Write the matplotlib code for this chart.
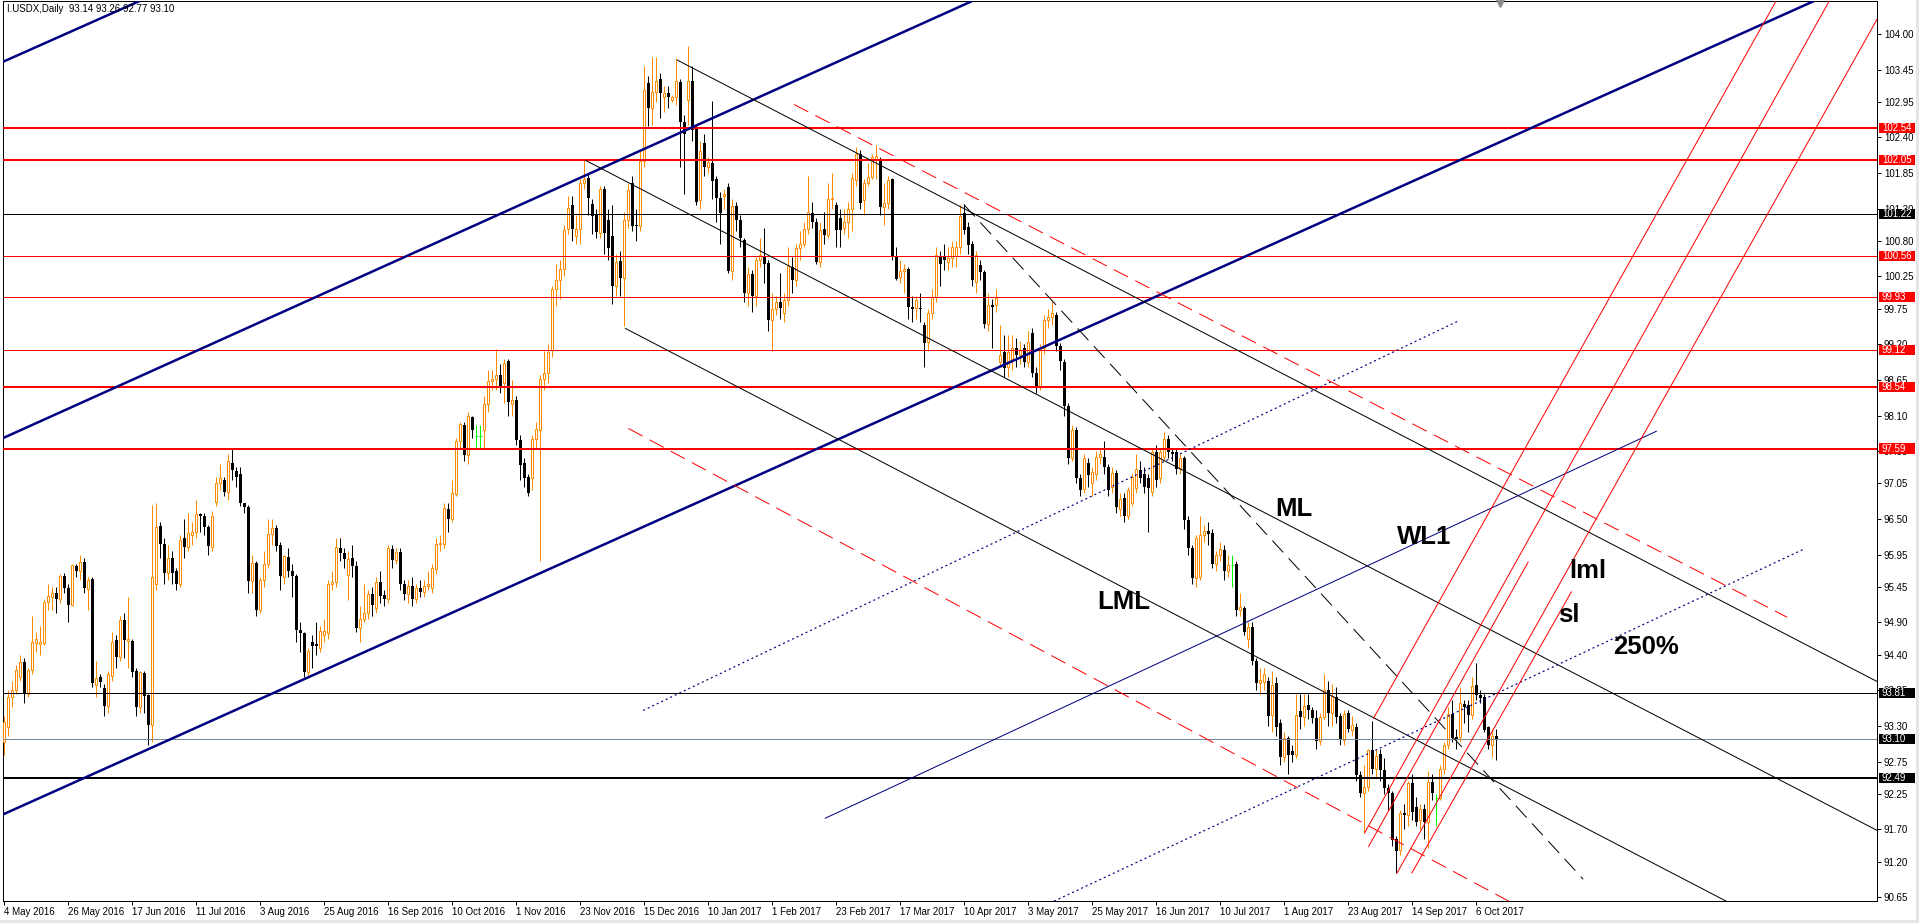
import matplotlib
matplotlib.use("Agg")
import matplotlib.pyplot as plt
import matplotlib.transforms as mtransforms
from matplotlib.patches import Rectangle
import numpy as np

# daily candles, bar 0 = 4 May 2016, one bar per trading day
opens = [
    93.05, 93.29, 93.75, 93.86, 94.06, 94.29, 93.80, 94.17, 94.58, 94.57,
    94.58, 95.22, 95.30, 95.35, 95.27, 95.62, 95.43, 95.17, 95.78, 95.69,
    95.83, 95.41, 95.57, 93.93, 94.06, 93.89, 93.61, 94.07, 94.63, 94.36,
    94.94, 94.62, 94.62, 94.15, 93.60, 94.12, 93.78, 93.31, 95.50, 96.39,
    96.12, 95.66, 95.90, 95.70, 95.49, 96.20, 96.07, 96.25, 96.30, 96.57,
    96.54, 96.37, 96.07, 96.77, 97.05, 97.11, 96.91, 97.37, 97.24, 97.20,
    96.74, 96.69, 95.54, 95.82, 95.09, 95.56, 95.80, 96.27, 96.36, 96.10,
    95.61, 95.92, 95.70, 95.62, 94.78, 94.73, 94.14, 94.60, 94.57, 94.50,
    94.71, 94.74, 95.49, 95.53, 96.05, 95.98, 95.63, 95.90, 95.78, 94.81,
    94.95, 95.04, 95.34, 95.12, 95.53, 95.32, 95.27, 96.04, 95.87, 95.99,
    95.49, 95.34, 95.47, 95.26, 95.44, 95.37, 95.46, 95.44, 95.72, 96.12,
    96.12, 96.65, 96.50, 96.89, 97.71, 97.96, 97.49, 98.07, 97.78, 97.78,
    97.87, 98.28, 98.63, 98.67, 98.72, 98.61, 98.94, 98.28, 98.34, 97.72,
    97.36, 97.15, 97.14, 97.74, 97.87, 98.66, 98.75, 99.11, 100.05, 100.20,
    100.36, 100.99, 101.36, 100.87, 100.99, 101.70, 101.77, 101.37, 101.20, 100.93,
    101.60, 101.12, 100.88, 100.11, 100.49, 100.22, 101.13, 101.69, 101.05, 101.03,
    102.04, 103.24, 102.86, 103.11, 103.30, 103.03, 103.09, 102.98, 103.02, 103.25,
    102.64, 102.98, 103.27, 102.54, 101.44, 102.32, 101.95, 102.00, 101.75, 101.47,
    101.50, 101.64, 100.33, 101.34, 101.12, 100.81, 99.99, 100.29, 99.95, 100.50,
    100.57, 100.46, 99.58, 99.74, 99.86, 99.68, 99.88, 100.40, 100.20, 100.69,
    100.76, 100.99, 101.23, 101.10, 100.48, 100.98, 100.89, 101.45, 101.35, 101.15,
    101.00, 101.10, 101.30, 101.74, 102.15, 101.43, 101.69, 101.79, 102.07, 102.05,
    101.32, 101.39, 101.76, 100.55, 100.24, 100.33, 100.36, 99.78, 99.76, 99.77,
    99.50, 99.23, 99.69, 99.94, 100.57, 100.55, 100.48, 100.54, 100.56, 100.71,
    101.23, 101.02, 100.75, 100.17, 100.43, 100.32, 99.52, 99.81, 99.81, 98.93,
    99.09, 98.85, 98.98, 99.15, 99.04, 99.14, 98.93, 99.37, 98.75, 98.55,
    99.14, 99.58, 99.63, 99.66, 99.18, 98.93, 98.25, 97.44, 97.88, 97.13,
    96.97, 97.37, 97.05, 97.20, 97.46, 97.46, 97.31, 97.00, 97.21, 96.66,
    96.82, 96.54, 96.74, 96.98, 97.26, 97.20, 97.13, 96.92, 97.54, 97.13,
    97.46, 97.74, 97.54, 97.53, 97.27, 97.44, 96.48, 96.05, 95.58, 95.61,
    96.25, 96.31, 96.29, 95.80, 95.94, 96.02, 95.69, 95.79, 95.81, 95.09,
    95.13, 94.65, 94.83, 94.31, 93.96, 93.98, 94.00, 93.47, 93.96, 93.35,
    92.82, 93.11, 92.92, 92.85, 93.53, 93.44, 93.62, 93.54, 93.42, 93.06,
    93.44, 93.86, 93.50, 93.74, 93.45, 93.09, 93.50, 93.24, 93.29, 92.54,
    92.26, 92.36, 92.93, 92.64, 92.87, 92.62, 92.34, 92.26, 91.55, 91.38,
    91.96, 91.92, 92.41, 92.05, 91.85, 92.02, 91.82, 92.44, 92.18, 92.18,
    92.64, 93.01, 93.49, 93.13, 93.13, 93.64, 93.62, 93.47, 93.93, 93.78,
    93.75, 93.29, 93.01, 93.14,
]
highs = [
    93.45, 93.85, 94.00, 94.25, 94.40, 94.35, 94.20, 95.00, 94.75, 94.85,
    95.25, 95.50, 95.45, 95.45, 95.65, 95.67, 95.50, 95.80, 95.80, 95.95,
    95.90, 95.60, 95.60, 94.30, 94.10, 93.95, 94.15, 94.75, 94.70, 95.00,
    95.05, 95.30, 94.65, 94.20, 94.15, 94.15, 93.80, 96.72, 96.75, 96.45,
    96.20, 96.10, 96.00, 95.75, 96.25, 96.50, 96.60, 96.45, 96.80, 96.60,
    96.60, 96.40, 96.62, 97.15, 97.35, 97.15, 97.50, 97.60, 97.30, 97.30,
    96.75, 96.72, 95.95, 95.85, 95.60, 96.00, 96.50, 96.50, 96.40, 96.15,
    95.95, 96.05, 95.80, 95.65, 94.90, 94.75, 94.50, 94.70, 94.90, 94.85,
    94.95, 95.55, 95.70, 96.20, 96.20, 96.05, 96.00, 96.10, 95.85, 95.15,
    95.50, 95.40, 95.45, 95.60, 95.70, 95.40, 96.10, 96.10, 96.05, 96.05,
    95.55, 95.55, 95.60, 95.50, 95.55, 95.55, 95.70, 95.80, 96.20, 96.25,
    96.75, 96.75, 97.10, 97.75, 98.00, 98.00, 98.15, 98.10, 97.95, 97.95,
    98.40, 98.80, 98.80, 99.13, 98.90, 98.98, 98.97, 98.65, 98.40, 97.80,
    97.45, 97.20, 97.80, 98.00, 98.72, 99.10, 99.20, 100.10, 100.45, 100.50,
    101.05, 101.50, 101.50, 101.20, 101.75, 102.07, 101.85, 101.45, 101.30, 101.65,
    101.65, 101.30, 101.35, 100.60, 100.65, 101.25, 101.70, 101.80, 101.30, 102.20,
    103.50, 103.35, 103.65, 103.65, 103.40, 103.20, 103.20, 103.05, 103.63, 103.30,
    102.75, 103.82, 103.50, 102.60, 102.35, 102.45, 102.10, 102.97, 101.80, 101.55,
    101.60, 101.70, 101.45, 101.40, 101.20, 100.85, 100.40, 100.35, 100.55, 100.85,
    101.00, 100.50, 100.00, 99.95, 100.30, 100.00, 100.70, 100.55, 100.75, 100.95,
    101.10, 101.80, 101.40, 101.15, 101.10, 101.25, 101.70, 101.85, 101.40, 101.30,
    101.30, 101.40, 101.85, 102.25, 102.20, 101.75, 102.00, 102.15, 102.28, 102.10,
    101.70, 101.80, 101.78, 100.70, 100.50, 100.45, 100.40, 99.95, 99.95, 100.00,
    99.55, 99.75, 100.05, 100.70, 100.65, 100.75, 100.70, 100.80, 100.80, 101.35,
    101.37, 101.10, 100.80, 100.65, 100.50, 100.35, 100.00, 99.90, 100.05, 99.50,
    99.35, 99.35, 99.35, 99.30, 99.25, 99.20, 99.40, 99.45, 98.85, 99.20,
    99.65, 99.75, 99.89, 99.70, 99.22, 98.97, 98.30, 97.95, 97.92, 97.20,
    97.50, 97.45, 97.30, 97.55, 97.60, 97.70, 97.35, 97.30, 97.25, 96.90,
    96.90, 97.00, 97.20, 97.50, 97.40, 97.30, 97.20, 97.60, 97.65, 97.60,
    97.85, 97.80, 97.60, 97.60, 97.50, 97.48, 96.55, 96.10, 96.25, 96.55,
    96.40, 96.45, 96.35, 96.00, 96.15, 96.10, 95.95, 95.95, 95.85, 95.35,
    95.15, 94.90, 94.90, 94.35, 94.20, 94.20, 94.05, 94.15, 94.05, 93.40,
    93.20, 93.15, 93.00, 93.80, 93.80, 93.80, 93.80, 93.60, 93.55, 93.50,
    94.10, 94.00, 93.95, 93.90, 93.50, 93.55, 93.55, 93.45, 93.35, 92.60,
    92.70, 92.95, 93.37, 92.95, 92.95, 92.80, 92.40, 92.30, 91.60, 92.00,
    92.10, 92.45, 92.55, 92.20, 92.10, 92.10, 92.60, 92.55, 92.25, 92.70,
    93.05, 93.60, 93.70, 93.25, 93.90, 93.70, 93.70, 94.05, 94.27, 93.85,
    93.80, 93.30, 93.25, 93.26,
]
lows = [
    92.85, 93.15, 93.60, 93.80, 94.00, 93.65, 93.75, 94.10, 94.45, 94.40,
    94.55, 95.10, 95.10, 95.05, 95.20, 95.35, 94.90, 95.15, 95.60, 95.55,
    95.35, 95.10, 93.90, 93.75, 93.90, 93.45, 93.50, 94.00, 94.20, 94.30,
    94.35, 94.20, 94.05, 93.45, 93.50, 93.50, 93.00, 93.05, 95.40, 95.90,
    95.50, 95.55, 95.50, 95.40, 95.45, 95.90, 96.00, 96.10, 96.20, 96.30,
    96.25, 95.95, 96.00, 96.70, 96.95, 96.85, 96.80, 97.10, 97.00, 96.70,
    96.60, 95.35, 95.35, 95.00, 95.05, 95.45, 95.75, 96.10, 96.00, 95.40,
    95.50, 95.60, 95.30, 94.60, 94.45, 94.05, 94.05, 94.20, 94.40, 94.45,
    94.60, 94.65, 95.40, 95.45, 95.85, 95.75, 95.25, 95.60, 94.75, 94.60,
    94.90, 94.95, 95.00, 95.05, 95.20, 95.15, 95.20, 95.75, 95.80, 95.40,
    95.25, 95.20, 95.15, 95.20, 95.30, 95.30, 95.40, 95.35, 95.65, 96.00,
    96.05, 96.30, 96.45, 96.85, 97.60, 97.40, 97.35, 97.75, 97.60, 97.60,
    97.60, 98.15, 98.50, 98.50, 98.45, 98.30, 98.10, 98.10, 97.65, 97.10,
    97.00, 96.85, 96.95, 97.60, 95.85, 98.50, 98.60, 99.00, 99.80, 99.90,
    100.25, 100.90, 100.80, 100.75, 100.75, 101.60, 101.20, 100.90, 100.85, 100.85,
    100.60, 100.50, 99.82, 99.95, 99.95, 99.48, 101.00, 100.95, 100.80, 100.95,
    101.95, 102.57, 102.60, 102.95, 102.70, 102.80, 102.85, 102.95, 102.90, 101.95,
    101.52, 102.60, 102.35, 101.35, 101.30, 101.80, 101.85, 101.45, 101.10, 100.75,
    101.30, 100.30, 100.20, 100.95, 100.70, 99.85, 99.80, 99.70, 99.80, 100.40,
    100.15, 99.40, 99.10, 99.65, 99.60, 99.55, 99.80, 100.00, 100.10, 100.50,
    100.70, 100.90, 101.00, 100.45, 100.40, 100.75, 100.85, 101.30, 100.70, 100.70,
    100.90, 100.85, 100.95, 101.65, 101.30, 101.20, 101.65, 101.75, 101.75, 101.20,
    101.05, 101.30, 100.50, 100.20, 100.15, 100.00, 99.60, 99.55, 99.60, 99.55,
    98.85, 99.10, 99.60, 99.85, 100.10, 100.35, 100.35, 100.40, 100.40, 100.60,
    100.90, 100.60, 100.10, 100.00, 100.20, 99.45, 99.40, 99.15, 99.70, 98.85,
    98.70, 98.70, 98.80, 98.85, 98.90, 98.85, 98.85, 98.70, 98.45, 98.50,
    99.05, 99.45, 99.50, 99.10, 98.80, 98.10, 97.35, 97.40, 97.05, 96.85,
    96.90, 97.00, 96.85, 97.10, 97.35, 97.20, 96.85, 96.90, 96.60, 96.55,
    96.45, 96.50, 96.70, 96.90, 97.05, 96.90, 96.30, 96.85, 97.00, 97.05,
    97.40, 97.45, 97.40, 97.20, 97.20, 96.35, 95.95, 95.50, 95.45, 95.55,
    96.15, 96.10, 95.75, 95.70, 95.85, 95.55, 95.60, 95.45, 95.00, 95.00,
    94.70, 94.50, 94.25, 93.85, 93.80, 93.85, 93.30, 93.20, 93.15, 92.70,
    92.75, 92.55, 92.75, 92.80, 93.25, 93.30, 93.40, 93.35, 92.95, 93.00,
    93.40, 93.30, 93.30, 93.35, 93.00, 93.00, 93.20, 93.15, 92.45, 92.20,
    91.64, 92.30, 92.55, 92.50, 92.45, 92.25, 92.00, 91.45, 91.02, 91.30,
    91.70, 91.75, 91.85, 91.75, 91.70, 91.55, 91.41, 92.15, 91.75, 92.15,
    92.55, 92.95, 93.05, 92.95, 93.05, 93.35, 93.20, 93.40, 93.70, 93.65,
    93.20, 92.95, 92.82, 92.77,
]
closes = [
    93.36, 93.75, 93.86, 94.17, 94.29, 93.80, 94.17, 94.60, 94.65, 94.60,
    95.22, 95.31, 95.35, 95.27, 95.62, 95.43, 95.17, 95.79, 95.69, 95.84,
    95.43, 95.56, 93.96, 94.04, 93.98, 93.61, 94.10, 94.60, 94.36, 94.94,
    94.63, 94.64, 94.14, 93.60, 94.13, 93.76, 93.31, 95.61, 96.38, 96.12,
    95.66, 95.89, 95.66, 95.49, 96.17, 96.06, 96.28, 96.30, 96.57, 96.54,
    96.37, 96.08, 96.55, 97.05, 97.13, 96.91, 97.40, 97.25, 97.15, 96.75,
    96.68, 95.54, 95.82, 95.09, 95.56, 95.80, 96.27, 96.36, 96.08, 95.62,
    95.93, 95.70, 95.62, 94.78, 94.73, 94.14, 94.46, 94.53, 94.53, 94.77,
    94.77, 95.49, 95.53, 96.06, 95.98, 95.88, 95.88, 95.78, 94.81, 94.95,
    95.04, 95.34, 95.17, 95.53, 95.31, 95.27, 96.05, 95.87, 95.99, 95.49,
    95.34, 95.46, 95.26, 95.44, 95.37, 95.46, 95.49, 95.75, 96.12, 96.13,
    96.67, 96.50, 96.90, 97.71, 97.97, 97.49, 98.10, 97.87, 97.78, 97.78,
    98.28, 98.63, 98.67, 98.72, 98.53, 98.92, 98.31, 98.34, 97.72, 97.34,
    97.14, 96.90, 97.74, 97.89, 98.66, 98.75, 99.09, 100.05, 100.20, 100.36,
    100.97, 101.31, 100.99, 100.99, 101.69, 101.75, 101.47, 101.18, 100.94, 101.60,
    100.93, 100.69, 100.11, 100.47, 100.22, 101.13, 101.58, 101.03, 101.03, 102.04,
    103.14, 102.86, 103.11, 103.28, 103.08, 103.09, 103.03, 103.02, 103.28, 102.64,
    102.45, 103.27, 102.51, 101.40, 102.19, 101.94, 102.02, 101.72, 101.47, 101.23,
    101.53, 100.33, 101.34, 101.13, 100.84, 99.99, 100.29, 99.95, 100.50, 100.58,
    100.45, 99.58, 99.74, 99.86, 99.77, 99.88, 100.41, 100.20, 100.69, 100.76,
    100.99, 101.25, 101.10, 100.48, 100.97, 100.89, 101.45, 101.47, 100.97, 100.97,
    101.10, 101.30, 101.77, 102.15, 101.39, 101.69, 101.79, 102.09, 102.12, 101.32,
    101.39, 101.74, 100.55, 100.21, 100.33, 100.36, 99.78, 99.74, 99.89, 99.75,
    99.22, 99.69, 99.94, 100.58, 100.45, 100.50, 100.54, 100.71, 100.71, 101.18,
    100.97, 100.74, 100.19, 100.59, 100.32, 99.52, 99.81, 99.78, 99.91, 99.04,
    98.84, 99.08, 99.14, 99.04, 99.12, 98.93, 99.24, 98.75, 98.55, 99.14,
    99.58, 99.63, 99.68, 99.18, 98.95, 98.24, 97.44, 97.88, 97.13, 96.95,
    97.44, 97.18, 97.23, 97.46, 97.51, 97.31, 96.95, 97.21, 96.69, 96.81,
    96.54, 96.95, 97.15, 97.28, 97.13, 97.00, 96.98, 97.54, 97.10, 97.54,
    97.74, 97.54, 97.51, 97.27, 97.44, 96.48, 96.05, 95.58, 96.20, 96.25,
    96.31, 96.27, 95.80, 95.94, 96.03, 95.69, 95.79, 95.79, 95.09, 95.14,
    94.76, 94.83, 94.31, 93.96, 94.01, 94.11, 93.45, 93.93, 93.29, 92.82,
    93.11, 92.85, 92.85, 93.47, 93.44, 93.61, 93.54, 93.42, 93.06, 93.44,
    93.86, 93.50, 93.76, 93.44, 93.08, 93.49, 93.25, 93.31, 92.54, 92.26,
    92.36, 92.93, 92.64, 92.83, 92.62, 92.34, 92.26, 91.54, 91.36, 91.95,
    91.93, 92.41, 91.97, 91.82, 92.02, 91.82, 92.44, 92.26, 92.18, 92.64,
    93.01, 93.49, 93.11, 93.08, 93.65, 93.60, 93.47, 93.91, 93.78, 93.73,
    93.24, 93.01, 93.14, 93.10,
]

# date labels, MT4 puts one every 16 bars
date_labels = [
    "4 May 2016", "26 May 2016", "17 Jun 2016", "11 Jul 2016", "3 Aug 2016",
    "25 Aug 2016", "16 Sep 2016", "10 Oct 2016", "1 Nov 2016", "23 Nov 2016",
    "15 Dec 2016", "10 Jan 2017", "1 Feb 2017", "23 Feb 2017", "17 Mar 2017",
    "10 Apr 2017", "3 May 2017", "25 May 2017", "16 Jun 2017", "10 Jul 2017",
    "1 Aug 2017", "23 Aug 2017", "14 Sep 2017", "6 Oct 2017",
]
price_ticks = [104.00, 103.45, 102.95, 102.40, 101.85, 101.30, 100.80, 100.25,
               99.75, 99.20, 98.65, 98.10, 97.55, 97.05, 96.50, 95.95, 95.45,
               94.90, 94.40, 93.85, 93.30, 92.75, 92.25, 91.70, 91.20, 90.65]

# horizontal levels
levels = [102.54, 102.05, 101.22, 100.56, 99.93, 99.12, 98.54, 97.59, 93.81, 93.10, 92.49]
level_kind = ["red2", "red2", "black1", "red1", "red1", "red1", "red2", "red2",
              "black1", "price", "black2"]

# trend objects, points are (bar, price)
channel_lines = [((-0.25, 103.57), (33.9, 104.51)),
                 ((94.0, 100.38), (189.0, 103.03)),
                 ((94.0, 94.55), (369.0, 102.19))]
median_rays = [((168.2, 103.60), (289.0, 99.73)),
               ((145.25, 102.05), (369.0, 94.87)),
               ((155.25, 99.45), (430.25, 90.60))]
wl1_segment = ((205.2, 91.87), (413.2, 97.86))
dotted_segments = [((159.8, 93.54), (363.5, 99.56)),
                   ((262.5, 90.59), (449.8, 96.03))]
black_dashed = ((240.0, 101.36), (394.8, 90.93))
red_dashed = [((197.5, 102.91), (445.8, 94.98)),
              ((156.1, 97.90), (378.0, 90.53))]
red_rays = [((342.3, 93.41), (443.2, 104.53)),
            ((340.1, 91.64), (456.5, 104.53)),
            ((348.2, 91.02), (468.2, 104.22))]
red_segments = [((341.1, 91.43), (381.1, 95.84)),
                ((351.9, 91.02), (391.9, 95.38))]

notes = [("ML", 317.75, 96.54), ("WL1", 348.25, 96.11), ("LML", 273.25, 95.11),
         ("lml", 391.3, 95.58), ("sl", 388.4, 94.90), ("250%", 402.2, 94.41)]

title = "I.USDX,Daily  93.14 93.26 92.77 93.10"
shift_bar = 374

ORANGE = "#ff8c00"
LIME = "#00ff00"
NAVY = "#000080"
RED = "#ff0000"
GRAY = "#778899"
PX = 0.72  # one pixel in points at 100 dpi

plt.rcParams.update({
    "font.family": ["Liberation Sans", "DejaVu Sans"],
    "font.size": 7,
    "lines.scale_dashes": False,
    "lines.solid_capstyle": "butt",
})

W, H = 1919, 923
fig = plt.figure(figsize=(W / 100, H / 100), dpi=100, facecolor="white")
ax = fig.add_axes([3 / W, 22 / H, 1874 / W, 900 / H])
x_left, x_right = -0.25, 468.25
ax.set_xlim(x_left, x_right)
ax.set_ylim(90.593, 104.510)

# candles
o, h, l, c = (np.array(a) for a in (opens, highs, lows, closes))
x = np.arange(len(c))
up, dn, dj = c > o, c < o, c == o
ax.vlines(x[up], l[up], h[up], colors=ORANGE, linewidth=PX, zorder=2, snap=True)
ax.vlines(x[dn], l[dn], h[dn], colors="black", linewidth=PX, zorder=2, snap=True)
ax.vlines(x[dj], l[dj], h[dj], colors=LIME, linewidth=PX, zorder=2, snap=True)
ax.bar(x[up], (c - o)[up], bottom=o[up], width=0.5, facecolor="white",
       edgecolor=ORANGE, linewidth=PX, zorder=3)
ax.bar(x[dn], (o - c)[dn], bottom=c[dn], width=0.75, color="black",
       linewidth=0, zorder=3)
ax.hlines(o[dj], x[dj] - 0.375, x[dj] + 0.375, colors=LIME, linewidth=PX, zorder=3)

# horizontal levels
styles = {"red2": (RED, 2), "red1": (RED, 1), "black1": ("black", 1),
          "black2": ("black", 2), "price": (GRAY, 1)}
for lv, kind in zip(levels, level_kind):
    col, w = styles[kind]
    ax.axhline(lv, color=col, linewidth=w * PX, zorder=4)


def ray(p0, p1):
    (x0, y0), (x1, y1) = p0, p1
    s = (y1 - y0) / (x1 - x0)
    xe = x_right + 20
    return [x0, xe], [y0, y0 + s * (xe - x0)]


def seg(p0, p1):
    return [p0[0], p1[0]], [p0[1], p1[1]]


dash = (16 * PX, 8 * PX)
dot = (2 * PX, 3 * PX)

for p0, p1 in channel_lines:
    ax.axline(p0, p1, color=NAVY, linewidth=2.5 * PX, zorder=5)
for p0, p1 in median_rays:
    ax.plot(*ray(p0, p1), color="black", linewidth=PX, zorder=5)
ax.plot(*seg(*wl1_segment), color=NAVY, linewidth=PX, zorder=5)
for p0, p1 in dotted_segments:
    ax.plot(*seg(p0, p1), color=NAVY, linewidth=1.2 * PX, dashes=dot, zorder=5)
ax.plot(*seg(*black_dashed), color="black", linewidth=PX, dashes=dash, zorder=5)
for p0, p1 in red_dashed:
    ax.plot(*seg(p0, p1), color=RED, linewidth=PX, dashes=dash, zorder=5)
for p0, p1 in red_rays:
    ax.plot(*ray(p0, p1), color=RED, linewidth=PX, zorder=5)
for p0, p1 in red_segments:
    ax.plot(*seg(p0, p1), color=RED, linewidth=PX, zorder=5)

for txt, bx, py in notes:
    ax.text(bx, py, txt, fontsize=18.5, fontweight="bold", color="black",
            ha="left", va="baseline", zorder=6)

# axes look
for sp in ax.spines.values():
    sp.set_linewidth(PX)
    sp.set_color("black")
ax.yaxis.tick_right()
ax.set_yticks(price_ticks)
ax.set_yticklabels([f"{v:.2f}" for v in price_ticks])
ax.tick_params(axis="y", direction="out", length=3, width=PX, pad=2, labelsize=7)
ax.set_xticks(np.arange(len(date_labels)) * 16)
ax.set_xticklabels(date_labels, ha="left")
ax.tick_params(axis="x", direction="out", length=3, width=PX, pad=1.5, labelsize=7)

# level tags on the price scale
ytr = ax.get_yaxis_transform()
for lv, kind in zip(levels, level_kind):
    box = RED if kind.startswith("red") else "black"
    ax.add_patch(Rectangle((1 + 2 / 1874, lv - 0.078), 36 / 1874, 0.156,
                           transform=ytr, facecolor=box, edgecolor="none",
                           clip_on=False, zorder=7))
    ax.text(1 + 5 / 1874, lv, f"{lv:.2f}", transform=ytr, color="white",
            ha="left", va="center", fontsize=7, clip_on=False, zorder=8)

ax.text(4 / 1874, 1 - 11 / 900, title, transform=ax.transAxes, ha="left",
        va="baseline", fontsize=7, color="black", zorder=8)

mtr = mtransforms.blended_transform_factory(ax.transData, ax.transAxes)
ax.plot([shift_bar], [1 - 1.5 / 900], marker="v", markersize=6, color="#8c8c8c",
        transform=mtr, clip_on=False, zorder=8)

# window frame bits
fig.patches.append(Rectangle((0, 0), 1, 3 / H, transform=fig.transFigure,
                             facecolor="#e6e6e6", edgecolor="none"))
fig.patches.append(Rectangle((1 - 3 / W, 0), 3 / W, 1, transform=fig.transFigure,
                             facecolor="#e6e6e6", edgecolor="none"))

fig.savefig("out.png", dpi=100, facecolor="white")
